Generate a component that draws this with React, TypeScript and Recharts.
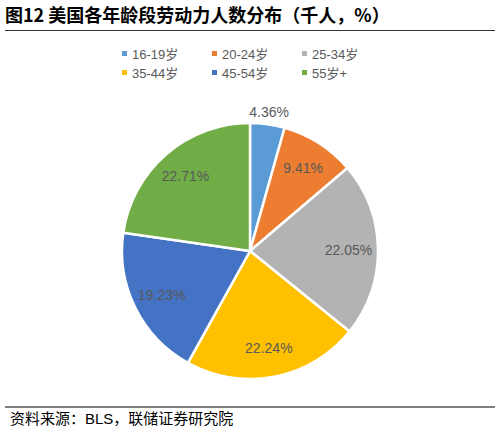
import React from "react";
import { PieChart, Pie, Cell } from "recharts";

const categories = ["16-19岁", "20-24岁", "25-34岁", "35-44岁", "45-54岁", "55岁+"];
const shares = [4.36, 9.41, 22.05, 22.24, 19.23, 22.71];
const colors = ["#5B9BD5", "#ED7D31", "#B3B3B3", "#FFC000", "#4472C4", "#70AD47"];

const title = "图12 美国各年龄段劳动力人数分布（千人，%）";
const source = "资料来源：BLS，联储证券研究院";

const data = categories.map((name, i) => ({ name, value: shares[i] }));

const FONT = "'Liberation Sans', Arial, 'Noto Sans CJK SC', sans-serif";
const RAD = Math.PI / 180;

const renderLabel = (props: any) => {
  const { cx, cy, midAngle, outerRadius, value } = props;
  const r = value < 5 ? outerRadius + 12 : outerRadius * 0.77;
  const x = cx + r * Math.cos(-midAngle * RAD);
  const y = cy + r * Math.sin(-midAngle * RAD);
  return (
    <text
      x={x}
      y={y}
      fill="#595959"
      fontSize={14}
      fontFamily={FONT}
      textAnchor="middle"
      dominantBaseline="central"
    >
      {value.toFixed(2)}%
    </text>
  );
};

const LegendBlock = () => (
  <div
    style={{
      position: "absolute",
      left: 122,
      top: 45,
      display: "grid",
      gridTemplateColumns: "90px 90px 90px",
      rowGap: 2,
      fontFamily: FONT,
      fontSize: 13,
      color: "#595959",
    }}
  >
    {categories.map((c, i) => (
      <div key={c} style={{ display: "flex", alignItems: "center", height: 17 }}>
        <span
          style={{
            display: "inline-block",
            width: 5,
            height: 5,
            background: colors[i],
            marginRight: 5,
          }}
        />
        <span>{c}</span>
      </div>
    ))}
  </div>
);

export default function App() {
  return (
    <div
      style={{
        position: "absolute",
        left: 0,
        top: 0,
        width: 501,
        height: 432,
        background: "#fff",
        overflow: "hidden",
      }}
    >
      <div
        style={{
          position: "absolute",
          left: 5,
          top: 3,
          fontFamily: "'Noto Sans CJK SC', sans-serif",
          fontWeight: 700,
          fontSize: 18,
          lineHeight: "23px",
          color: "#000",
          whiteSpace: "nowrap",
        }}
      >
        {title}
      </div>
      <div
        style={{
          position: "absolute",
          left: 5,
          top: 30,
          width: 490,
          height: 1,
          background: "#333",
        }}
      />
      <LegendBlock />
      <PieChart
        width={501}
        height={432}
        margin={{ top: 0, right: 0, bottom: 0, left: 0 }}
        style={{ position: "absolute", left: 0, top: 0 }}
      >
        <Pie
          data={data}
          dataKey="value"
          nameKey="name"
          cx={250}
          cy={251}
          outerRadius={128}
          startAngle={90}
          endAngle={-270}
          stroke="#fff"
          strokeWidth={2.5}
          label={renderLabel}
          labelLine={false}
          isAnimationActive={false}
        >
          {data.map((d, i) => (
            <Cell key={d.name} fill={colors[i]} />
          ))}
        </Pie>
      </PieChart>
      <div
        style={{
          position: "absolute",
          left: 5,
          top: 406,
          width: 490,
          height: 2,
          background: "#7F7F7F",
        }}
      />
      <div
        style={{
          position: "absolute",
          left: 10,
          top: 409,
          fontFamily: FONT,
          fontSize: 15,
          lineHeight: "20px",
          color: "#000",
          whiteSpace: "nowrap",
        }}
      >
        {source}
      </div>
    </div>
  );
}
